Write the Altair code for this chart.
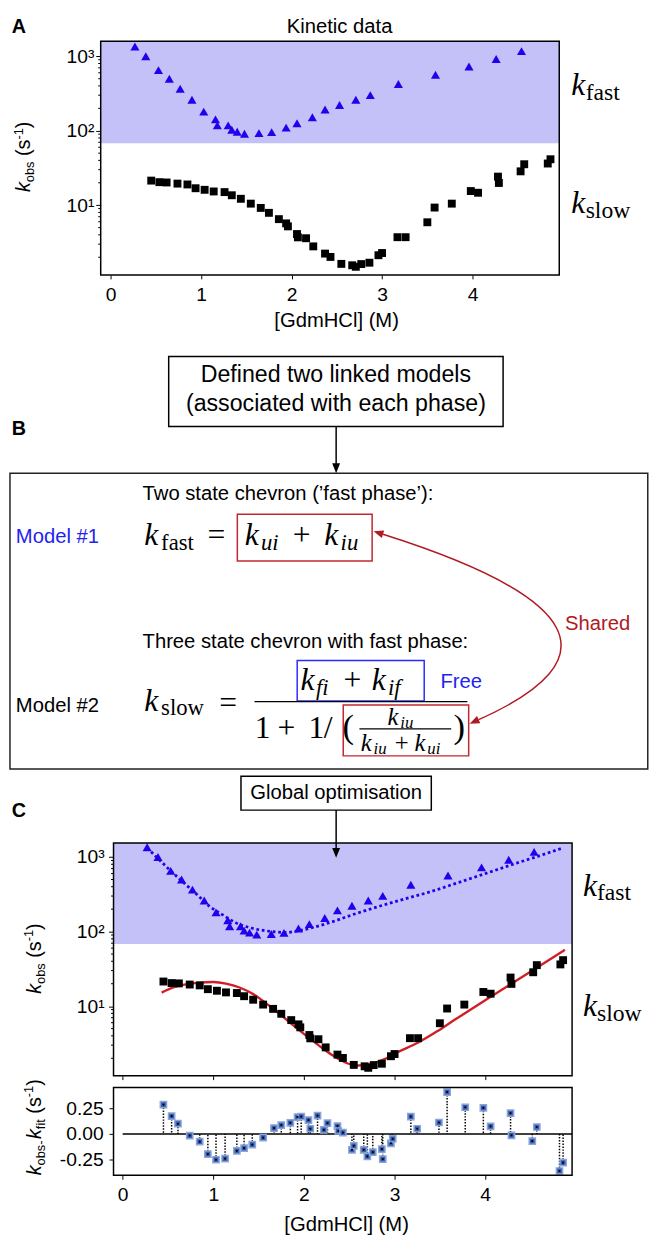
import numpy as np
import pandas as pd
import altair as alt

# ---------------- values ----------------
gdm_ticks = [0, 1, 2, 3, 4]
log_major = [10, 100, 1000]
log_minor = [2, 3, 4, 5, 6, 7, 8, 9, 20, 30, 40, 50, 60, 70, 80, 90,
             200, 300, 400, 500, 600, 700, 800, 900]
res_ticks = [-0.25, 0.0, 0.25]
fast_zone = [68]

fast_x = [0.27, 0.39, 0.53, 0.65, 0.77, 0.90, 1.03, 1.16, 1.18, 1.30, 1.34, 1.40, 1.48,
          1.64, 1.78, 1.94, 2.06, 2.23, 2.37, 2.53, 2.71, 2.87, 3.18, 3.59, 3.96, 4.26, 4.54]
fast_k = [1355, 1000, 653, 500, 366, 261, 181, 142, 118, 118, 103, 97, 91,
          93, 96, 110, 126, 152, 193, 222, 261, 301, 425, 565, 728, 921, 1175]

slow_x = [0.45, 0.54, 0.62, 0.74, 0.85, 0.94, 1.04, 1.14, 1.26, 1.34, 1.44, 1.55, 1.66, 1.75,
          1.86, 1.94, 1.96, 2.06, 2.07, 2.16, 2.24, 2.37, 2.43, 2.55, 2.67, 2.71, 2.77, 2.86,
          2.96, 3.00, 3.17, 3.26, 3.50, 3.58, 3.77, 3.98, 4.06, 4.28, 4.29, 4.53, 4.57, 4.83, 4.86]
slow_k = [21.4, 20.4, 20.2, 19.5, 19.0, 16.9, 16.1, 15.3, 15.0, 13.6, 12.2, 10.5, 9.2, 7.9,
          6.5, 5.7, 5.2, 4.1, 3.7, 3.6, 2.8, 2.24, 2.02, 1.63, 1.56, 1.49, 1.62, 1.69,
          2.13, 2.28, 3.72, 3.72, 5.9, 9.3, 10.5, 15.5, 14.7, 24.2, 19.9, 28.5, 35.5, 36.3, 41.4]

fastfit_x = [0.27, 0.40, 0.53, 0.67, 0.82, 0.96, 1.11, 1.25, 1.40, 1.58, 1.80, 1.94,
             2.09, 2.31, 2.52, 2.74, 2.96, 3.18, 3.40, 3.65, 3.98, 4.30, 4.58, 4.86]
fastfit_k = [1328, 929, 653, 457, 314, 218, 166, 131, 113, 102.5, 97.3, 102.5,
             113, 135, 166, 202, 243, 289, 344, 433, 589, 794, 1023, 1328]

slowfit_x = [0.43, 0.56, 0.71, 0.85, 1.00, 1.14, 1.29, 1.44, 1.58, 1.73, 1.87, 2.02, 2.16,
             2.31, 2.45, 2.60, 2.74, 2.89, 3.03, 3.25, 3.47, 3.65, 4.00, 4.50, 4.88]
slowfit_k = [15.2, 17.8, 19.7, 20.7, 21.1, 20.1, 17.8, 14.5, 11.0, 7.9, 5.7, 4.06, 3.0,
             2.21, 1.77, 1.60, 1.68, 1.95, 2.4, 3.2, 4.6, 6.4, 12.0, 29.0, 57.0]

res_x = [0.45, 0.54, 0.61, 0.74, 0.85, 0.94, 1.03, 1.13, 1.26, 1.34, 1.43, 1.55, 1.67, 1.75,
         1.85, 1.93, 1.97, 2.05, 2.07, 2.15, 2.22, 2.26, 2.37, 2.38, 2.43, 2.53, 2.55, 2.66,
         2.70, 2.76, 2.86, 2.87, 2.96, 2.98, 3.18, 3.25, 3.49, 3.58, 3.78, 3.98, 4.06, 4.28,
         4.29, 4.52, 4.57, 4.82, 4.86]
res_y = [0.287, 0.174, 0.10, -0.016, -0.075, -0.197, -0.252, -0.242, -0.165, -0.139, -0.104,
         -0.036, 0.058, 0.087, 0.109, 0.165, 0.17, 0.136, 0.051, 0.18, 0.039, 0.106, 0.077,
         0.029, 0.013, -0.155, -0.116, -0.155, -0.22, -0.178, -0.149, -0.246, -0.091, -0.048,
         0.17, 0.051, 0.112, 0.41, 0.261, 0.255, 0.074, 0.203, -0.013, -0.071, 0.068, -0.362,
         -0.281]

# ---------------- styling / layout ----------------
SANS = "Liberation Sans"
SERIF = "Liberation Serif"
BLUE = "#2200ee"
SHADE = "#c3c1f7"
FITRED = "#cf1f25"
ARROWRED = "#b01a22"
BOXRED = "#c0282e"
TXTBLUE = "#2323f0"
LAB = 19.5

OX = 100.75                         # page x of every panel origin
OYA, OYD, OYC, OYR = 32, 281, 845, 1093
PW = 465                            # plot width
SH = 13                             # panel C / residual plot shift
HA, HD, HC, HR = 237, 552, 236, 89

one = pd.DataFrame({"_": [0]})

CW = {'k': .5, 'o': .556, 'b': .556, 's': .5, ' ': .278, '(': .333, ')': .333,
      '-': .333, '1': .556, 'f': .278, 'i': .222, 't': .278}


def tw(s, size):
    return sum(CW[c] for c in s) * size


def T(px, py, oy, s, size=20.5, font=SANS, style="normal", weight="normal",
      color="black", align="left", baseline="alphabetic", angle=0):
    return alt.Chart(pd.DataFrame({"t": [s]})).mark_text(
        font=font, fontSize=size, fontStyle=style, fontWeight=weight,
        color=color, align=align, baseline=baseline, angle=angle
    ).encode(text="t:N", x=alt.value(px - OX), y=alt.value(py - oy))


def BX(x1, y1, x2, y2, oy, color="black", w=1.5):
    return alt.Chart(one).mark_rect(fill="transparent", stroke=color, strokeWidth=w).encode(
        x=alt.value(x1 - OX), x2=alt.value(x2 - OX), y=alt.value(y1 - oy), y2=alt.value(y2 - oy))


def LN(x1, y1, x2, y2, oy, color="black", w=1.5):
    return alt.Chart(one).mark_rule(color=color, strokeWidth=w).encode(
        x=alt.value(x1 - OX), x2=alt.value(x2 - OX), y=alt.value(y1 - oy), y2=alt.value(y2 - oy))


def SHP(px, py, oy, d, color, filled=True, w=1.5):
    return alt.Chart(one).mark_point(shape=d, size=4, filled=filled, color=color,
                                     strokeWidth=w, opacity=1).encode(
        x=alt.value(px - OX), y=alt.value(py - oy))


def head_path(direction, L=10.0, W=4.0):
    u = np.asarray(direction, float)
    u = u / np.linalg.norm(u)
    p = np.array([-u[1], u[0]])
    b = -L * u
    c1, c2 = b + W * p, b - W * p
    return "M0,0L{:.2f},{:.2f}L{:.2f},{:.2f}Z".format(c1[0], c1[1], c2[0], c2[1])


def arrow_down(x, y1, y2, oy):
    return [LN(x, y1, x, y2 - 8, oy), SHP(x, y2, oy, head_path([0, 1]), "black")]


def rot_title(xb, y0, oy, parts):
    out, y = [], y0
    for s, size, dx, style, gap in parts:
        y -= gap
        out.append(T(xb + dx, y, oy, s, size=size, style=style, angle=270))
        y -= tw(s, size)
    return out


KOBS = [("k", 20, 0, "italic", 0), ("obs", 13, 4, "normal", 0), ("(s", 20, 0, "normal", 5.6),
        ("-1", 13, -8, "normal", 0), (")", 20, 0, "normal", 0)]
KRES = [("k", 20, 0, "italic", 0), ("obs", 13, 4, "normal", 0), ("-", 13, 4, "normal", 0),
        ("k", 20, 0, "italic", 1.5), ("fit", 13, 4, "normal", 0), ("(s", 20, 0, "normal", 5.6),
        ("-1", 13, -8, "normal", 0), (")", 20, 0, "normal", 0)]

LOGLAB = ("datum.value === 10 ? '10\u00b9' : datum.value === 100 ? '10\u00b2' : "
          "datum.value === 1000 ? '10\u00b3' : ''")


def kinetic_panel(oy, x0, H, xdom, ydom, ypad, show_x, fits, extra):
    xs = alt.Scale(domain=xdom, range=[x0, x0 + PW], nice=False, zero=False)
    ys = alt.Scale(type="log", domain=ydom, nice=False)
    if show_x:
        xax = alt.Axis(values=gdm_ticks, format="d", tickSize=4, labelPadding=7,
                       labelFontSize=LAB, title="[GdmHCl] (M)", titleFontSize=20.5,
                       titleX=339.5 - OX, titleY=52.3, titleBaseline="alphabetic",
                       titleAlign="center", titleAnchor="start")
    else:
        xax = alt.Axis(values=gdm_ticks, tickSize=4, labels=False, title=None)
    yax = alt.Axis(values=log_major, labelExpr=LOGLAB, tickSize=5, labelPadding=ypad,
                   labelFontSize=LAB, labelOverlap=False, title=None, offset=-x0)
    X = alt.X("x:Q", scale=xs, axis=xax)
    Y = alt.Y("k:Q", scale=ys, axis=yax)
    shade = alt.Chart(pd.DataFrame({"k": fast_zone})).mark_rect(color=SHADE, opacity=1).encode(
        x=alt.value(x0), x2=alt.value(x0 + PW), y=Y, y2=alt.value(0))
    minor = alt.Chart(pd.DataFrame({"k": log_minor})).mark_rule(color="black", strokeWidth=1).encode(
        x=alt.value(x0 - 2.5), x2=alt.value(x0), y=Y)
    tri = alt.Chart(pd.DataFrame({"x": fast_x, "k": fast_k})).mark_point(
        shape="triangle-up", filled=True, size=85, color=BLUE, opacity=1).encode(x=X, y=Y)
    sq = alt.Chart(pd.DataFrame({"x": slow_x, "k": slow_k})).mark_square(
        size=64, color="black", opacity=1, cornerRadius=1.5).encode(x=X, y=Y)
    layers = [shade, minor]
    if fits:
        sfit = alt.Chart(pd.DataFrame({"x": slowfit_x, "k": slowfit_k})).mark_line(
            color=FITRED, strokeWidth=2.4, interpolate="monotone").encode(x=X, y=Y)
        ffit = alt.Chart(pd.DataFrame({"x": fastfit_x, "k": fastfit_k})).mark_line(
            color=BLUE, strokeWidth=2.8, strokeDash=[2.8, 2.8], interpolate="monotone").encode(x=X, y=Y)
        layers += [sfit, sq, tri, ffit]
    else:
        layers += [tri, sq]
    layers.append(BX(OX + x0, oy, OX + x0 + PW, oy + H, oy))
    layers += extra
    return alt.layer(*layers).properties(width=x0 + PW, height=H)


# ---------------- panel A ----------------
extraA = [
    T(343, 8, OYA, "Kinetic data", size=20.5, align="center", baseline="top"),
    T(10.5, 24, OYA, "A", size=20, weight="bold"),
    T(578, 86.7, OYA, "k", size=32, font=SERIF, style="italic"),
    T(592.5, 91.7, OYA, "fast", size=24, font=SERIF),
    T(578, 206.7, OYA, "k", size=32, font=SERIF, style="italic"),
    T(592.5, 211.7, OYA, "slow", size=24, font=SERIF),
] + rot_title(29.5, 185, OYA, KOBS)
panelA = kinetic_panel(OYA, 0, HA, [-0.108, 4.957], [1.158, 1594], 2, True, False, extraA)

# ---------------- diagram B ----------------
P0 = np.array([387.0, 532.0])
CC = np.array([690.5, 628.0])
P2 = np.array([484.0, 720.0])
curve = "M0,0Q{:.1f},{:.1f},{:.1f},{:.1f}".format(*(CC - P0), *(P2 - P0))
d0 = P0 - CC
d2 = P2 - CC
tip0 = P0 + 10 * d0 / np.linalg.norm(d0)
tip2 = P2 + 10 * d2 / np.linalg.norm(d2)

D = OYD
diag = [
    BX(169.7, 351.7, 508.8, 422.7, D),
    T(339.25, 371, D, "Defined two linked models", size=23.5, align="center", baseline="middle"),
    T(339.25, 399.5, D, "(associated with each phase)", size=23.5, align="center", baseline="middle"),
    *arrow_down(339.5, 422.7, 470, D),
    T(10.5, 431.7, D, "B", size=20, weight="bold"),
    BX(8.75, 470, 655.5, 770, D, color="#222222"),
    T(143.2, 491, D, "Two state chevron (\u2019fast phase\u2019):", baseline="middle"),
    T(14.7, 535, D, "Model #1", color=TXTBLUE, baseline="middle"),
    # k_fast = k_ui + k_iu
    T(145, 542.7, D, "k", size=32, font=SERIF, style="italic"),
    T(162, 547.7, D, "fast", size=23, font=SERIF),
    T(209, 542.7, D, "=", size=32, font=SERIF),
    BX(239.3, 511.7, 376, 559, D, color=BOXRED),
    T(246.7, 542.7, D, "k", size=32, font=SERIF, style="italic"),
    T(263.3, 547.7, D, "ui", size=23, font=SERIF, style="italic"),
    T(295.5, 542.7, D, "+", size=32, font=SERIF),
    T(327.5, 542.7, D, "k", size=32, font=SERIF, style="italic"),
    T(344, 547.7, D, "iu", size=23, font=SERIF, style="italic"),
    # shared arrow
    SHP(P0[0], P0[1], D, curve, ARROWRED, filled=False, w=1.5),
    SHP(tip0[0], tip0[1], D, head_path(d0), ARROWRED),
    SHP(tip2[0], tip2[1], D, head_path(d2), ARROWRED),
    T(571.6, 622.7, D, "Shared", color=ARROWRED, baseline="middle"),
    T(143.2, 641, D, "Three state chevron with fast phase:", baseline="middle"),
    # numerator
    BX(300, 660, 428.8, 701, D, color="#2a2aff"),
    T(303.3, 690, D, "k", size=32, font=SERIF, style="italic"),
    T(319, 695, D, "fi", size=23, font=SERIF, style="italic"),
    T(347, 690, D, "+", size=32, font=SERIF),
    T(375.5, 690, D, "k", size=32, font=SERIF, style="italic"),
    T(392, 695, D, "if", size=23, font=SERIF, style="italic"),
    T(445.2, 681.7, D, "Free", color=TXTBLUE, baseline="middle"),
    T(14.7, 706, D, "Model #2", baseline="middle"),
    T(145, 710.7, D, "k", size=32, font=SERIF, style="italic"),
    T(162, 715.7, D, "slow", size=23, font=SERIF),
    T(221, 713, D, "=", size=32, font=SERIF),
    LN(256.7, 701.7, 472.6, 701.7, D, w=1.3),
    # denominator
    T(257, 738.3, D, "1", size=32, font=SERIF),
    T(280, 738.3, D, "+", size=32, font=SERIF),
    T(311.5, 738.3, D, "1", size=32, font=SERIF),
    T(327, 738.3, D, "/", size=32, font=SERIF),
    T(346, 738.8, D, "(", size=35, font=SERIF),
    BX(346.7, 705, 473.9, 756.7, D, color=BOXRED),
    T(391.7, 725, D, "k", size=25, font=SERIF, style="italic"),
    T(404.5, 728, D, "iu", size=17, font=SERIF, style="italic"),
    LN(363.1, 729.3, 456.2, 729.3, D, w=1.1),
    T(364.4, 751.7, D, "k", size=25, font=SERIF, style="italic"),
    T(377.5, 755, D, "iu", size=17, font=SERIF, style="italic"),
    T(399, 751.7, D, "+", size=25, font=SERIF),
    T(419, 751.7, D, "k", size=25, font=SERIF, style="italic"),
    T(432, 755, D, "ui", size=17, font=SERIF, style="italic"),
    T(458.5, 738.8, D, ")", size=35, font=SERIF),
    # global optimisation
    BX(243, 777.3, 436, 811.7, D),
    T(339.5, 794, D, "Global optimisation", align="center", baseline="middle"),
    T(10.5, 818.3, D, "C", size=20, weight="bold"),
]
panelD = alt.layer(*diag).properties(width=PW, height=HD)

# ---------------- panel C ----------------
extraC = [
    *arrow_down(339.5, 811.7, 860, OYC),
    T(589.7, 898.3, OYC, "k", size=32, font=SERIF, style="italic"),
    T(604, 903.3, OYC, "fast", size=24, font=SERIF),
    T(589.7, 1020.7, OYC, "k", size=32, font=SERIF, style="italic"),
    T(604, 1025.7, OYC, "slow", size=24, font=SERIF),
] + rot_title(40, 998, OYC, KOBS)
panelC = kinetic_panel(OYC, SH, HC, [-0.101, 4.959], [1.168, 1546], 4.5, False, True, extraC)

# ---------------- residual panel ----------------
xsR = alt.Scale(domain=[-0.101, 4.959], range=[SH, SH + PW], nice=False, zero=False)
ysR = alt.Scale(domain=[-0.404, 0.454], nice=False, zero=False)
xaxR = alt.Axis(values=gdm_ticks, format="d", tickSize=4, labelPadding=7, labelFontSize=LAB,
                title="[GdmHCl] (M)", titleFontSize=20.5, titleX=349.6 - OX, titleY=55.5,
                titleBaseline="alphabetic", titleAlign="center", titleAnchor="start")
yaxR = alt.Axis(values=res_ticks, tickSize=4.5, labelPadding=6, labelFontSize=LAB,
                labelExpr="datum.value < 0 ? '-' + format(-datum.value, '.2f') : format(datum.value, '.2f')",
                title=None, offset=-SH)
XR = alt.X("x:Q", scale=xsR, axis=xaxR)
YR = alt.Y("r:Q", scale=ysR, axis=yaxR)
res_df = pd.DataFrame({"x": res_x, "r": res_y})
res_df["zero"] = 0.0
zero_line = alt.Chart(pd.DataFrame({"x": [0.0], "r": [0.0]})).mark_rule(
    color="black", strokeWidth=1.5).encode(x=XR, x2=alt.value(SH + PW), y=YR)
stems = alt.Chart(res_df).mark_rule(color="black", strokeWidth=1.5, strokeDash=[1.5, 1.5]).encode(
    x=XR, y=YR, y2="zero:Q")
res_sq = alt.Chart(res_df).mark_square(size=40, fill="#3a5fae", stroke="#8aa5dc",
                                       strokeWidth=1.5, opacity=1).encode(x=XR, y=YR)
res_dot = alt.Chart(res_df).mark_circle(size=5, color="black", opacity=1).encode(x=XR, y=YR)
panelR = alt.layer(
    zero_line, stems, res_sq, res_dot,
    BX(OX + SH, OYR, OX + SH + PW, OYR + HR, OYR),
    *rot_title(40, 1182, OYR, KRES),
).properties(width=SH + PW, height=HR)

chart = alt.vconcat(panelA, panelD, panelC, panelR, spacing=12, bounds="flush").properties(
    padding=0
).configure_view(stroke="transparent").configure_axis(
    labelFont=SANS, titleFont=SANS, labelColor="black", titleColor="black",
    tickColor="black", tickWidth=1, domain=False, grid=False, titleFontWeight="normal"
)

chart.save("out.html", embed_options={"renderer": "svg", "actions": False})
